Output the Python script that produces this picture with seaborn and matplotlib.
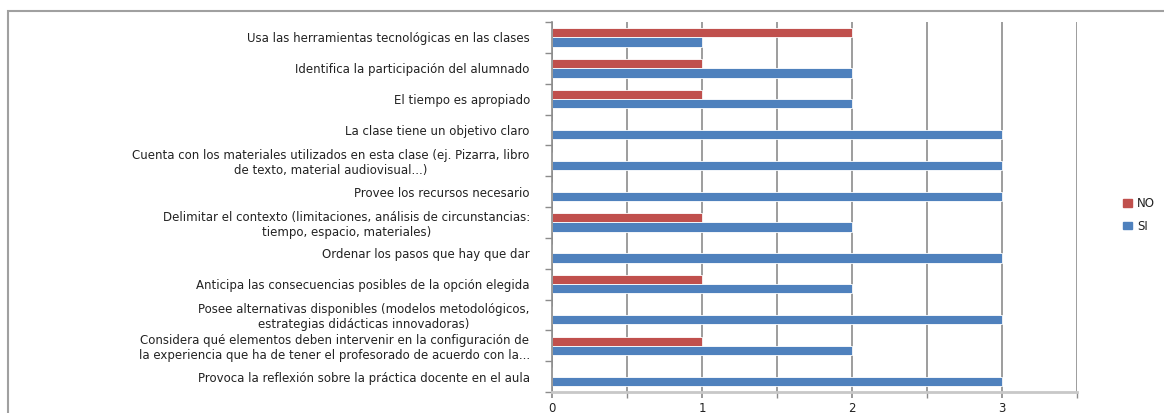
import matplotlib
matplotlib.use("Agg")
import matplotlib.pyplot as plt
import matplotlib.patches as mpatches
from matplotlib.ticker import MultipleLocator, FixedLocator
import seaborn as sns
import pandas as pd
import numpy as np

categories = [
    "Usa las herramientas tecnológicas en las clases",
    "Identifica la participación del alumnado",
    "El tiempo es apropiado",
    "La clase tiene un objetivo claro",
    "Cuenta con los materiales utilizados en esta clase (ej. Pizarra, libro\nde texto, material audiovisual...)",
    "Provee los recursos necesario",
    "Delimitar el contexto (limitaciones, análisis de circunstancias:\ntiempo, espacio, materiales)",
    "Ordenar los pasos que hay que dar",
    "Anticipa las consecuencias posibles de la opción elegida",
    "Posee alternativas disponibles (modelos metodológicos,\nestrategias didácticas innovadoras)",
    "Considera qué elementos deben intervenir en la configuración de\nla experiencia que ha de tener el profesorado de acuerdo con la...",
    "Provoca la reflexión sobre la práctica docente en el aula",
]
no_values = [2, 1, 1, 0, 0, 0, 1, 0, 1, 0, 1, 0]
si_values = [1, 2, 2, 3, 3, 3, 2, 3, 2, 3, 2, 3]
series = ["NO", "SI"]
colors = {"NO": "#C0504D", "SI": "#4F81BD"}

df = pd.DataFrame({
    "cat": categories * 2,
    "val": no_values + si_values,
    "serie": ["NO"] * len(categories) + ["SI"] * len(categories),
})

sns.set_theme(style="white")
plt.rcParams["font.family"] = ["DejaVu Sans"]

W, H = 1164, 413
fig = plt.figure(figsize=(W / 100, H / 100), dpi=100)
ax = fig.add_axes([552 / W, 1 - 392 / H, (1077 - 552) / W, (392 - 22) / H])

sns.barplot(data=df, y="cat", x="val", hue="serie", hue_order=series,
            order=categories, palette=colors, orient="h", ax=ax,
            width=0.6, edgecolor="white", linewidth=0.6, saturation=1,
            legend=False)

ax.set_xlim(0, 3.5)
ax.set_ylim(len(categories) - 0.5, -0.5)
ax.set_xlabel("")
ax.set_ylabel("")

ax.xaxis.set_major_locator(FixedLocator([0, 1, 2, 3]))
ax.xaxis.set_minor_locator(MultipleLocator(0.5))
ax.grid(True, axis="x", which="both", color="#8c8c8c", linewidth=1.2)
ax.set_axisbelow(True)
ax.tick_params(axis="x", which="both", bottom=True, length=4, color="#8c8c8c",
               labelsize=8.5, labelcolor="#222222", pad=3)

ax.yaxis.set_minor_locator(FixedLocator(np.arange(-0.5, len(categories), 1.0)))
ax.tick_params(axis="y", which="major", length=0, labelsize=8.5, labelcolor="#222222", pad=16)
ax.tick_params(axis="y", which="minor", left=True, length=5, color="#8c8c8c", width=1)
for lab in ax.get_yticklabels():
    lab.set_multialignment("center")

for s in ["top", "right"]:
    ax.spines[s].set_visible(False)
ax.spines["left"].set_color("#8c8c8c")
ax.spines["left"].set_linewidth(1.2)
ax.spines["bottom"].set_color("#c8c8c8")
ax.spines["bottom"].set_linewidth(2)

# outer chart border
fig.patches.append(mpatches.Rectangle((8 / W, -0.1), 1.2, 1 - 11 / H + 0.1,
                                      transform=fig.transFigure, fill=False,
                                      edgecolor="#a0a0a0", linewidth=1.5,
                                      clip_on=False))

handles = [mpatches.Patch(color=colors[s], label=s) for s in series]
fig.legend(handles=handles, loc="center left",
           bbox_to_anchor=(1112 / W, 1 - 215 / H), frameon=False,
           fontsize=8.5, handlelength=0.8, handleheight=0.6, handletextpad=0.4,
           labelspacing=0.8, labelcolor="#222222")

fig.savefig("out.png", dpi=100)
